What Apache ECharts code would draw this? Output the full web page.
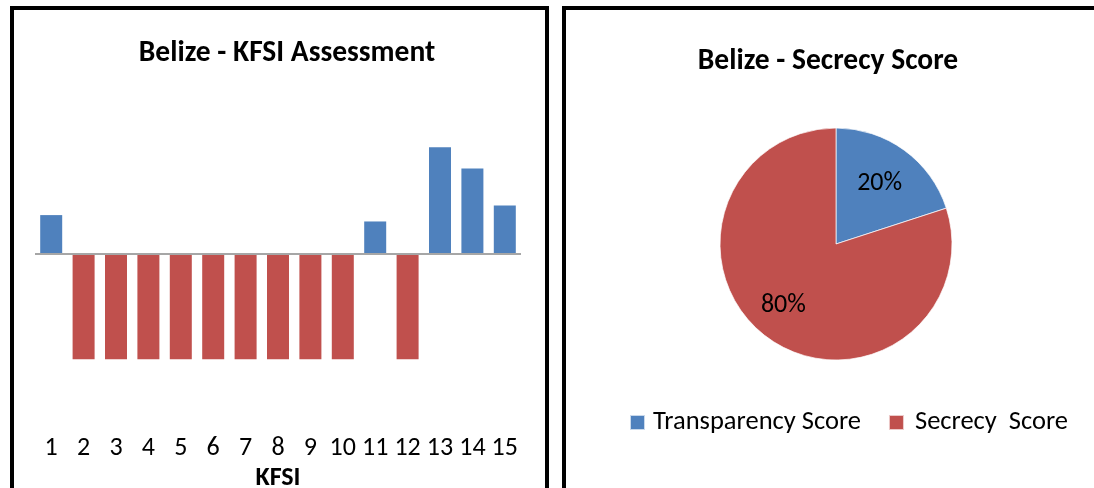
<!DOCTYPE html>
<html>
<head>
<meta charset="utf-8">
<script src="https://cdn.jsdelivr.net/npm/echarts@6/dist/echarts.min.js"></script>
<style>
  html, body { margin: 0; padding: 0; background: #fff; }
  #wrap { position: relative; width: 1094px; height: 488px; overflow: hidden; }
  .panel { position: absolute; border: 4px solid #000; border-bottom: none; background: #fff; }
  #p1 { left: 10px; top: 6px; width: 531px; height: 500px; }
  #p2 { left: 562px; top: 6px; width: 560px; height: 500px; border-right: none; }
  #chart { position: absolute; left: 0; top: 0; width: 1094px; height: 488px; }
</style>
</head>
<body>
<div id="wrap">
  <div class="panel" id="p1"></div>
  <div class="panel" id="p2"></div>
  <div id="chart"></div>
</div>
<script>
// ---- data ----
const kfsiCategories = ['1','2','3','4','5','6','7','8','9','10','11','12','13','14','15'];
const kfsiValues = [36, -100, -100, -100, -100, -100, -100, -100, -100, -100, 30, -100, 100, 80, 45];
const pieNames = ['Transparency Score', 'Secrecy  Score'];
const pieValues = [20, 80];
const titles = ['Belize - KFSI Assessment', 'Belize - Secrecy Score'];
const axisName = 'KFSI';

const BLUE = '#4F81BD';
const RED = '#C0504D';
const FONT = 'Carlito, Lato, "Open Sans", sans-serif';

const chart = echarts.init(document.getElementById('chart'), null, { renderer: 'canvas' });

const pieData = pieNames.map((n, i) => ({ name: n, value: pieValues[i], itemStyle: { color: i === 0 ? BLUE : RED } }));

chart.setOption({
  backgroundColor: 'transparent',
  animation: false,
  title: [
    { text: titles[0], left: 282, top: 34, textAlign: 'center',
      textStyle: { fontFamily: FONT, fontWeight: 'bold', fontSize: 29.5, color: '#000' } },
    { text: titles[1], left: 823, top: 42, textAlign: 'center',
      textStyle: { fontFamily: FONT, fontWeight: 'bold', fontSize: 29.5, color: '#000' } }
  ],
  grid: { left: 35, width: 486, top: 126, height: 297, outerBoundsMode: 'none', containLabel: false },
  xAxis: {
    type: 'category',
    data: kfsiCategories,
    position: 'bottom',
    axisLine: { show: false, onZero: false },
    axisTick: { show: false },
    axisLabel: { fontFamily: FONT, fontSize: 26, color: '#000', margin: 12, interval: 0 },
    name: axisName,
    nameLocation: 'middle',
    nameGap: 33,
    nameTextStyle: { fontFamily: FONT, fontWeight: 'bold', fontSize: 26, color: '#000' }
  },
  yAxis: {
    type: 'value', min: -160, max: 120, show: false,
    splitLine: { show: false }
  },
  legend: {
    data: pieNames.map((n, i) => ({
      name: n,
      itemStyle: { color: i === 0 ? BLUE : RED },
      textStyle: { padding: [0, 0, 0, i === 0 ? 3 : 6] }
    })),
    left: 629, top: 409, padding: 0,
    icon: 'rect', itemWidth: 15, itemHeight: 15, itemGap: 27,
    textStyle: { fontFamily: FONT, fontSize: 26.5, color: '#000' },
    selectedMode: false
  },
  series: [
    {
      type: 'bar',
      data: kfsiValues,
      barWidth: 22,
      itemStyle: { color: p => (p.value >= 0 ? BLUE : RED) },
      markLine: {
        silent: true, symbol: 'none',
        label: { show: false },
        lineStyle: { color: '#A6A6A6', width: 2, type: 'solid' },
        data: [{ yAxis: 0 }]
      }
    },
    {
      type: 'pie',
      center: [836, 244],
      radius: [0, 116],
      startAngle: 90,
      clockwise: true,
      label: { show: false },
      labelLine: { show: false },
      itemStyle: { borderColor: 'rgba(255,255,255,0.7)', borderWidth: 1 },
      data: pieData
    },
    {
      type: 'pie',
      center: [836, 244],
      radius: [40, 116],
      startAngle: 90,
      clockwise: true,
      silent: true,
      itemStyle: { color: 'rgba(0,0,0,0)' },
      label: { show: true, position: 'inside', formatter: '{d}%', fontFamily: FONT, fontSize: 26, color: '#000' },
      labelLine: { show: false },
      labelLayout: p => (p.dataIndex === 0 ? { dx: -4, dy: 5 } : { dx: -5, dy: -4 }),
      data: pieNames.map((n, i) => ({ name: n, value: pieValues[i], itemStyle: { color: 'rgba(0,0,0,0)' } }))
    }
  ]
});
</script>
</body>
</html>
